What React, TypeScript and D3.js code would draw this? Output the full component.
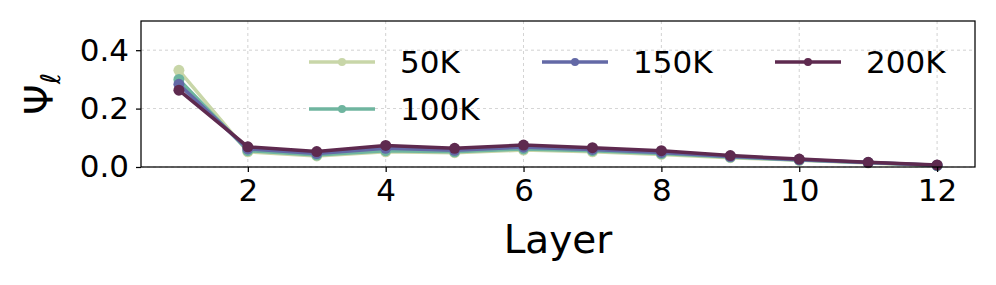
import { useEffect, useRef } from 'react'
import * as d3 from 'd3'

const layers = [1, 2, 3, 4, 5, 6, 7, 8, 9, 10, 11, 12]
const seriesNames = ['50K', '100K', '150K', '200K']
const seriesColors = ['#c8d6a8', '#6fb59f', '#6369a6', '#5e2a4f']
const values50K = [0.331, 0.052, 0.038, 0.052, 0.049, 0.058, 0.052, 0.043, 0.032, 0.023, 0.014, 0.005]
const values100K = [0.300, 0.056, 0.041, 0.056, 0.052, 0.062, 0.056, 0.046, 0.034, 0.024, 0.015, 0.005]
const values150K = [0.283, 0.062, 0.046, 0.064, 0.057, 0.068, 0.060, 0.050, 0.036, 0.025, 0.015, 0.006]
const values200K = [0.263, 0.069, 0.053, 0.074, 0.064, 0.075, 0.066, 0.056, 0.039, 0.027, 0.016, 0.007]
const xTicks = [2, 4, 6, 8, 10, 12]
const yTicks = [0.0, 0.2, 0.4]

export default function App() {
  const svgRef = useRef<SVGSVGElement>(null)

  useEffect(() => {
    if (!svgRef.current) return
    const width = 996
    const height = 285
    const svg = d3.select(svgRef.current)
    svg.selectAll('*').remove()
    svg.attr('width', width).attr('height', height)

    const margin = { top: 21, right: 21, bottom: 118, left: 141 }
    const innerW = width - margin.left - margin.right
    const innerH = height - margin.top - margin.bottom
    const font = 'DejaVu Sans, sans-serif'

    const x = d3.scaleLinear().domain([0.45, 12.55]).range([0, innerW])
    const y = d3.scaleLinear().domain([0, 0.5]).range([innerH, 0])

    const g = svg.append('g').attr('transform', `translate(${margin.left},${margin.top})`)

    // grid
    g.selectAll('.vgrid')
      .data(xTicks)
      .enter().append('line')
      .attr('x1', d => x(d)).attr('x2', d => x(d))
      .attr('y1', 0).attr('y2', innerH)
      .attr('stroke', '#b0b0b0').attr('stroke-width', 0.8)
      .attr('stroke-dasharray', '3,3').attr('opacity', 0.7)
    g.selectAll('.hgrid')
      .data(yTicks)
      .enter().append('line')
      .attr('x1', 0).attr('x2', innerW)
      .attr('y1', d => y(d)).attr('y2', d => y(d))
      .attr('stroke', '#b0b0b0').attr('stroke-width', 0.8)
      .attr('stroke-dasharray', '3,3').attr('opacity', 0.7)

    // series
    const allSeries = [values50K, values100K, values150K, values200K]
    const line = d3.line<number>()
      .x((_, i) => x(layers[i]))
      .y(d => y(d))

    allSeries.forEach((vals, si) => {
      g.append('path')
        .datum(vals)
        .attr('fill', 'none')
        .attr('stroke', seriesColors[si])
        .attr('stroke-width', 3.5)
        .attr('stroke-linejoin', 'round')
        .attr('d', line)
      g.selectAll(`.pt${si}`)
        .data(vals)
        .enter().append('circle')
        .attr('cx', (_, i) => x(layers[i]))
        .attr('cy', d => y(d))
        .attr('r', 5.5)
        .attr('fill', seriesColors[si])
    })

    // spines
    g.append('rect')
      .attr('width', innerW).attr('height', innerH)
      .attr('fill', 'none').attr('stroke', '#000').attr('stroke-width', 1.25)

    // x axis
    const xAxis = g.append('g').attr('transform', `translate(0,${innerH})`)
      .call(d3.axisBottom(x).tickValues(xTicks).tickSize(5).tickPadding(7).tickFormat(d3.format('d')))
    xAxis.select('.domain').remove()
    xAxis.selectAll('line').attr('stroke', '#000').attr('stroke-width', 1.25)
    xAxis.selectAll('text').attr('font-family', font).attr('font-size', 31).attr('fill', '#000')

    // y axis
    const yAxis = g.append('g')
      .call(d3.axisLeft(y).tickValues(yTicks).tickSize(5).tickPadding(7).tickFormat(d3.format('.1f')))
    yAxis.select('.domain').remove()
    yAxis.selectAll('line').attr('stroke', '#000').attr('stroke-width', 1.25)
    yAxis.selectAll('text').attr('font-family', font).attr('font-size', 31).attr('fill', '#000')

    // axis labels
    g.append('text')
      .attr('x', innerW / 2).attr('y', innerH + 86)
      .attr('text-anchor', 'middle')
      .attr('font-family', font).attr('font-size', 39)
      .text('Layer')

    const yl = svg.append('text')
      .attr('transform', `translate(53,${margin.top + innerH / 2}) rotate(-90)`)
      .attr('text-anchor', 'middle')
      .attr('font-family', font).attr('font-size', 39)
    yl.append('tspan').text('Ψ')
    yl.append('tspan').attr('font-size', 27).attr('font-style', 'italic').attr('dy', 7).text('ℓ')

    // legend: 3 columns, 2 rows, filled column-wise (matplotlib ncol=3)
    const legendPos = [[0, 0], [0, 1], [1, 0], [2, 0]]
    const colX = [168, 401, 634]
    const rowY = [41, 88]
    seriesNames.forEach((name, i) => {
      const [col, row] = legendPos[i]
      const lg = g.append('g').attr('transform', `translate(${colX[col]},${rowY[row]})`)
      lg.append('line')
        .attr('x1', 0).attr('x2', 66)
        .attr('stroke', seriesColors[i]).attr('stroke-width', 3.5)
      lg.append('circle').attr('cx', 33).attr('r', 4).attr('fill', seriesColors[i])
      lg.append('text')
        .attr('x', 91).attr('dy', '0.35em')
        .attr('font-family', font).attr('font-size', 31)
        .text(name)
    })
  }, [])

  return (
    <div style={{ position: 'absolute', left: 0, top: 0 }}>
      <svg ref={svgRef} style={{ display: 'block', background: '#fff' }} />
    </div>
  )
}
